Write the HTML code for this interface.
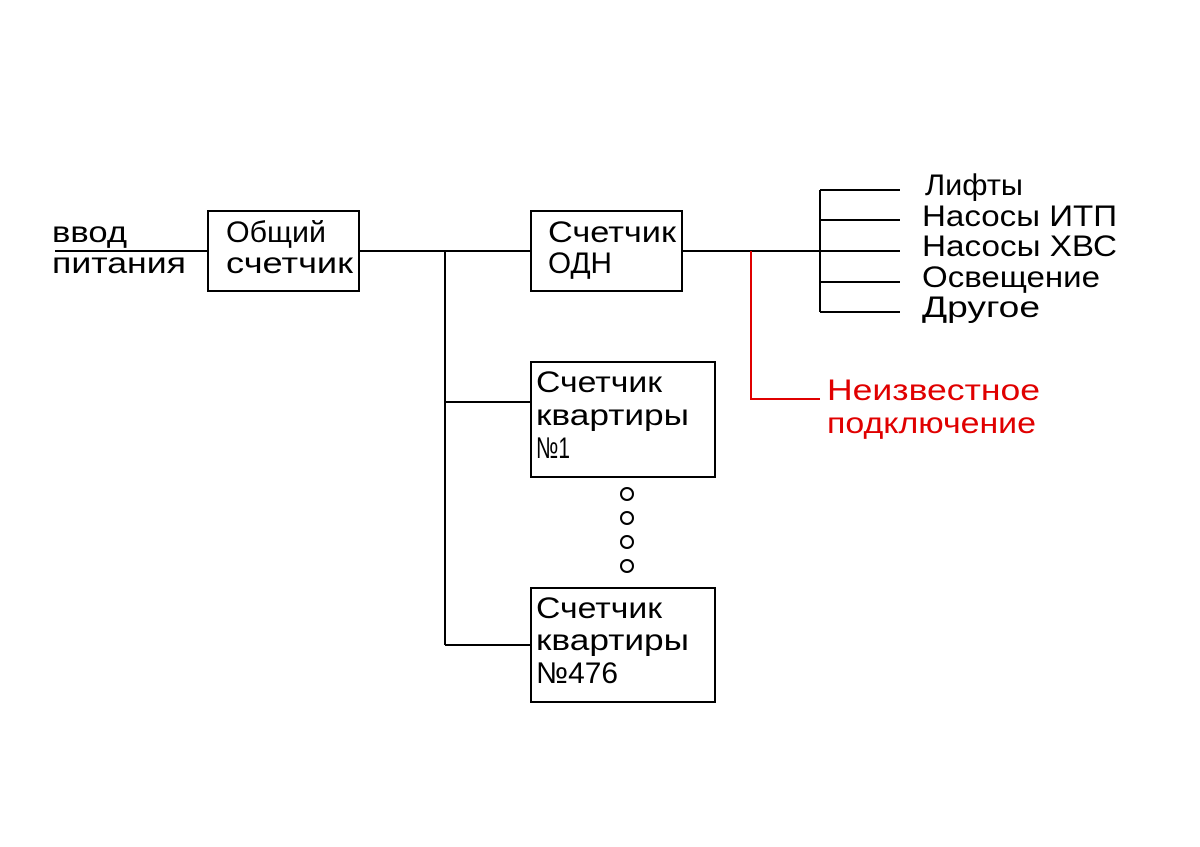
<!DOCTYPE html>
<html><head><meta charset="utf-8"><style>html,body{margin:0;padding:0;background:#fff}svg{display:block}</style></head>
<body>
<svg width="1200" height="847" viewBox="0 0 1200 847" xmlns="http://www.w3.org/2000/svg" font-family="Liberation Sans, DejaVu Sans, sans-serif" font-size="30" fill="#000">
<g stroke="#000" stroke-width="2" fill="none">
<line x1="55" y1="251" x2="208" y2="251"/>
<rect x="208" y="211" width="151" height="80"/>
<line x1="359" y1="251" x2="531" y2="251"/>
<rect x="531" y="211" width="151" height="80"/>
<line x1="682" y1="251" x2="900" y2="251"/>
<line x1="445" y1="251" x2="445" y2="645"/>
<line x1="445" y1="402" x2="531" y2="402"/>
<line x1="445" y1="645" x2="531" y2="645"/>
<rect x="531" y="362" width="184" height="115"/>
<rect x="531" y="588" width="184" height="114"/>
<line x1="820" y1="190" x2="820" y2="312"/>
<line x1="820" y1="190" x2="900" y2="190"/>
<line x1="820" y1="220" x2="900" y2="220"/>
<line x1="820" y1="282" x2="900" y2="282"/>
<line x1="820" y1="312" x2="900" y2="312"/>
<circle cx="627" cy="494" r="6"/><circle cx="627" cy="518" r="6"/><circle cx="627" cy="542" r="6"/><circle cx="627" cy="566" r="6"/>
</g>
<polyline points="751,251 751,399 820,399" stroke="#e00000" stroke-width="2" fill="none"/>
<g font-weight="normal">
<text x="52" y="242" textLength="75" lengthAdjust="spacingAndGlyphs">ввод</text>
<text x="52" y="273" textLength="134" lengthAdjust="spacingAndGlyphs">питания</text>
<text x="226" y="242" textLength="100" lengthAdjust="spacingAndGlyphs">Общий</text>
<text x="226" y="273" textLength="127" lengthAdjust="spacingAndGlyphs">счетчик</text>
<text x="548" y="242" textLength="128" lengthAdjust="spacingAndGlyphs">Счетчик</text>
<text x="548" y="273" textLength="64" lengthAdjust="spacingAndGlyphs">ОДН</text>
<text x="536" y="392" textLength="126" lengthAdjust="spacingAndGlyphs">Счетчик</text>
<text x="536" y="425" textLength="153" lengthAdjust="spacingAndGlyphs">квартиры</text>
<text x="536" y="458" textLength="34" lengthAdjust="spacingAndGlyphs">№1</text>
<text x="536" y="618" textLength="126" lengthAdjust="spacingAndGlyphs">Счетчик</text>
<text x="536" y="650" textLength="153" lengthAdjust="spacingAndGlyphs">квартиры</text>
<text x="536" y="683" textLength="82" lengthAdjust="spacingAndGlyphs">№476</text>
<text x="925" y="195" textLength="98" lengthAdjust="spacingAndGlyphs">Лифты</text>
<text x="922" y="226" textLength="195" lengthAdjust="spacingAndGlyphs">Насосы ИТП</text>
<text x="922" y="256" textLength="195" lengthAdjust="spacingAndGlyphs">Насосы ХВС</text>
<text x="922" y="287" textLength="178" lengthAdjust="spacingAndGlyphs">Освещение</text>
<text x="922" y="317" textLength="118" lengthAdjust="spacingAndGlyphs">Другое</text>
<text x="827" y="400" fill="#e00000" textLength="213" lengthAdjust="spacingAndGlyphs">Неизвестное</text>
<text x="827" y="433" fill="#e00000" textLength="209" lengthAdjust="spacingAndGlyphs">подключение</text>
</g>
</svg>
</body></html>
